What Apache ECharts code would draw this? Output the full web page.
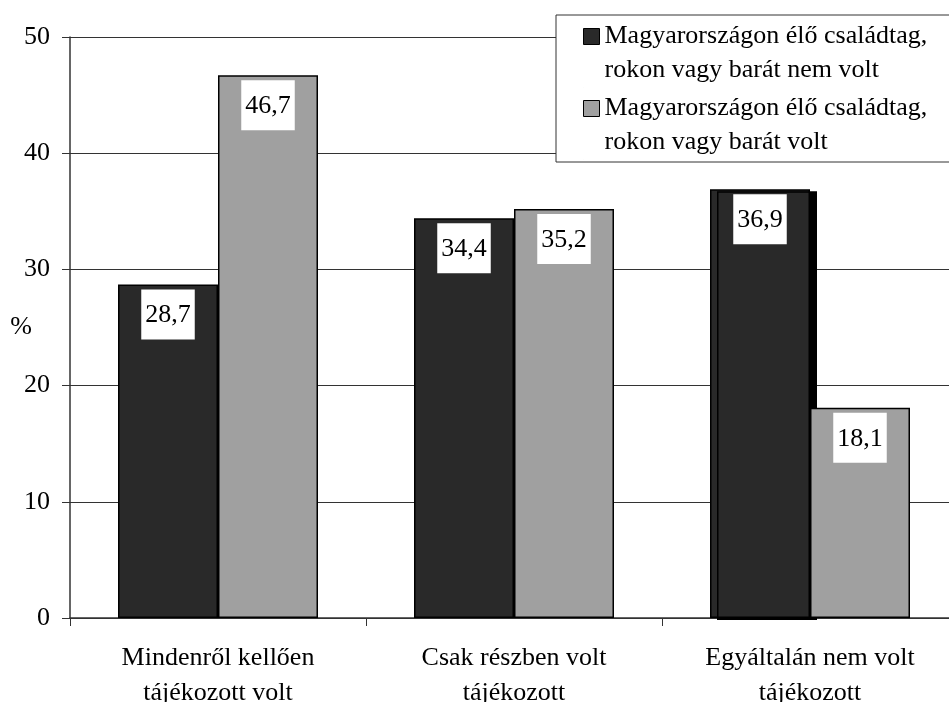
<!DOCTYPE html>
<html>
<head>
<meta charset="utf-8">
<script src="https://cdn.jsdelivr.net/npm/echarts@6/dist/echarts.min.js"></script>
<style>html,body{margin:0;padding:0;background:#fff}#c{width:949px;height:702px}</style>
</head>
<body>
<div id="c"></div>
<script>
const categories = ['Mindenről kellően\ntájékozott volt', 'Csak részben volt\ntájékozott', 'Egyáltalán nem volt\ntájékozott'];
const seriesNames = ['Magyarországon élő családtag,\nrokon vagy barát nem volt', 'Magyarországon élő családtag,\nrokon vagy barát volt'];
const valuesNem = [28.7, 34.4, 36.9];
const valuesVolt = [46.7, 35.2, 18.1];
const yTicks = [0, 10, 20, 30, 40, 50];

const FONT = '"Liberation Serif", "Times New Roman", serif';
const chart = echarts.init(document.getElementById('c'), null, {renderer: 'canvas'});

const labelStyle = {
  show: true,
  position: 'insideTop',
  distance: 5,
  formatter: p => String(p.value).replace('.', ','),
  backgroundColor: '#fff',
  color: '#000',
  fontFamily: FONT,
  fontSize: 26,
  lineHeight: 28,
  padding: [12, 4, 10, 4]
};

const iconPath = 'path://M0,0L0,0.01M0,9h16v16h-16zM0,68L0,67.99';

chart.setOption({
  animation: false,
  grid: {left: 70, top: 37, width: 888, height: 581, containLabel: false, outerBoundsMode: 'none'},
  legend: {
    orient: 'vertical',
    left: 556,
    top: 15,
    padding: [4, 30, 2, 27],
    itemGap: 3,
    itemWidth: 16,
    itemHeight: 68,
    backgroundColor: '#fff',
    borderColor: '#333',
    borderWidth: 1,
    borderRadius: 0,
    selectedMode: false,
    textStyle: {fontFamily: FONT, fontSize: 26, lineHeight: 34, color: '#000'},
    itemStyle: {borderColor: '#000', borderWidth: 1},
    data: seriesNames.map(n => ({name: n, icon: iconPath}))
  },
  xAxis: {
    type: 'category',
    data: categories,
    axisLine: {lineStyle: {color: '#333', width: 1.5}},
    axisTick: {show: true, length: 8, lineStyle: {color: '#333'}},
    axisLabel: {fontFamily: FONT, fontSize: 26, lineHeight: 35, color: '#000', margin: 23, interval: 0}
  },
  yAxis: {
    type: 'value',
    min: yTicks[0],
    max: yTicks[yTicks.length - 1],
    interval: 10,
    name: '%',
    nameLocation: 'middle',
    nameGap: 49,
    nameRotate: 0,
    nameMoveOverlap: false,
    nameTextStyle: {fontFamily: FONT, fontSize: 26, color: '#000', align: 'center', verticalAlign: 'middle', padding: [12, 0, 0, 0]},
    axisLine: {show: true, lineStyle: {color: '#333', width: 1.5}},
    axisTick: {show: true, length: 8, lineStyle: {color: '#333'}},
    axisLabel: {fontFamily: FONT, fontSize: 26, color: '#000', margin: 20},
    splitLine: {lineStyle: {color: '#333', width: 1}}
  },
  series: [
    {
      name: seriesNames[0],
      type: 'bar',
      barWidth: 100,
      barGap: '0%',
      itemStyle: {color: '#292929', borderColor: '#000', borderWidth: 1.5},
      label: labelStyle,
      z: 2,
      data: valuesNem.map((v, i) => i === 2
        ? {value: v, itemStyle: {shadowColor: '#000', shadowOffsetX: 7, shadowOffsetY: 2, shadowBlur: 0}}
        : v)
    },
    {
      name: seriesNames[1],
      type: 'bar',
      barWidth: 100,
      barGap: '0%',
      itemStyle: {color: '#a0a0a0', borderColor: '#000', borderWidth: 1.5},
      label: labelStyle,
      z: 3,
      data: valuesVolt
    }
  ]
});
</script>
</body>
</html>
